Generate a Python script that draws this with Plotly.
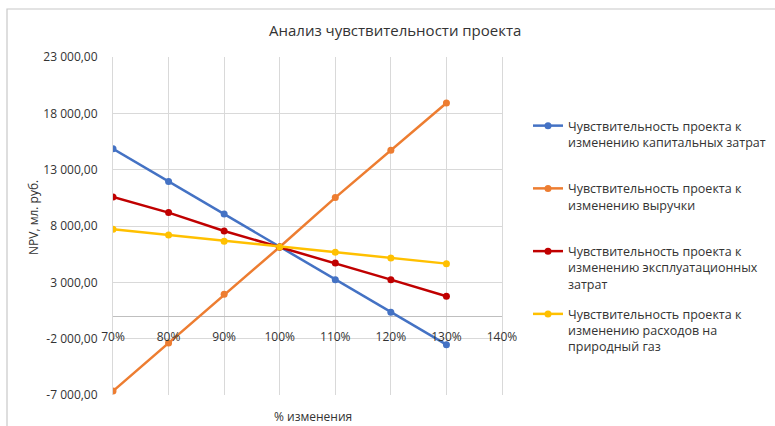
import plotly.graph_objects as go

W, H = 775, 426
L, R, T, B = 113, 502, 57, 395  # plot area in pixels

x_change = [0.7, 0.8, 0.9, 1.0, 1.1, 1.2, 1.3]
capex = [14850, 11950, 9070, 6140, 3240, 340, -2530]
revenue = [-6650, -2390, 1940, 6140, 10520, 14720, 18920]
opex = [10580, 9190, 7560, 6140, 4720, 3240, 1760]
gas = [7710, 7200, 6640, 6140, 5670, 5160, 4660]

series_names = [
    "Чувствительность проекта к<br>изменению капитальных затрат<br> ",
    "Чувствительность проекта к<br>изменению выручки<br> ",
    "Чувствительность проекта к<br>изменению эксплуатационных<br>затрат",
    "Чувствительность проекта к<br>изменению расходов на<br>природный газ",
]
series_colors = ["#4472C4", "#ED7D31", "#C00000", "#FFC000"]

y_tickvals = [-7000, -2000, 3000, 8000, 13000, 18000, 23000]
y_ticktext = ["-7 000,00", "-2 000,00", "3 000,00", "8 000,00", "13 000,00", "18 000,00", "23 000,00"]
x_tickvals = [0.7, 0.8, 0.9, 1.0, 1.1, 1.2, 1.3, 1.4]
x_ticktext = ["70%", "80%", "90%", "100%", "110%", "120%", "130%", "140%"]

FONT = "Open Sans"
TXT = "#333333"

fig = go.Figure()
for name, ys, col in zip(series_names, [capex, revenue, opex, gas], series_colors):
    fig.add_trace(go.Scatter(
        x=x_change, y=ys, name=name, mode="lines+markers",
        line=dict(color=col, width=2.5),
        marker=dict(color=col, size=7),
        legendgroup=name,
    ))

pw, ph = R - L, B - T
def px(xp):
    return (xp - L) / pw
def py(yp):
    return (B - yp) / ph

ymin, ymax = -7000, 23000
fig.update_layout(
    width=W, height=H,
    margin=dict(l=L, r=W - R, t=T, b=H - B, pad=0, autoexpand=False),
    paper_bgcolor="white", plot_bgcolor="white",
    font=dict(family=FONT, size=12, color=TXT),
    showlegend=True,
    legend=dict(
        x=px(528), y=py(111), xanchor="left", yanchor="top",
        font=dict(family=FONT, size=12.5, color=TXT),
        valign="top", tracegroupgap=11, itemwidth=30,
        bgcolor="rgba(0,0,0,0)",
    ),
    xaxis=dict(
        range=[0.7, 1.4], tickvals=x_tickvals, ticktext=x_ticktext,
        showgrid=True, gridcolor="#D9D9D9", gridwidth=1,
        zeroline=False, showline=False, ticks="",
        anchor="free", position=(0 - ymin) / (ymax - ymin),
        ticklabelstandoff=12, automargin=False,
        tickfont=dict(family=FONT, size=12, color=TXT),
    ),
    yaxis=dict(
        range=[ymin, ymax], tickvals=y_tickvals, ticktext=y_ticktext,
        showgrid=True, gridcolor="#D9D9D9", gridwidth=1,
        zeroline=True, zerolinecolor="#BFBFBF", zerolinewidth=1,
        showline=True, mirror=True, linecolor="#D9D9D9", linewidth=1,
        ticks="", ticklabelstandoff=12, automargin=False,
        tickfont=dict(family=FONT, size=12, color=TXT),
    ),
    annotations=[
        dict(text="Анализ чувствительности проекта", xref="paper", yref="paper",
             x=px(395), y=py(30), showarrow=False, xanchor="center", yanchor="middle",
             font=dict(family=FONT, size=15, color=TXT)),
        dict(text="NPV, мл. руб.", xref="paper", yref="paper",
             x=px(33), y=py(218), showarrow=False, textangle=-90,
             xanchor="center", yanchor="middle",
             font=dict(family=FONT, size=12, color=TXT)),
        dict(text="% изменения", xref="paper", yref="paper",
             x=px(313), y=py(416), showarrow=False,
             xanchor="center", yanchor="middle",
             font=dict(family=FONT, size=12, color=TXT)),
    ],
    shapes=[
        dict(type="rect", xref="paper", yref="paper",
             x0=px(7), x1=px(790), y0=py(440), y1=py(9),
             line=dict(color="#C8C8C8", width=1.2), layer="below"),
    ],
)

fig.write_html("out.html")
